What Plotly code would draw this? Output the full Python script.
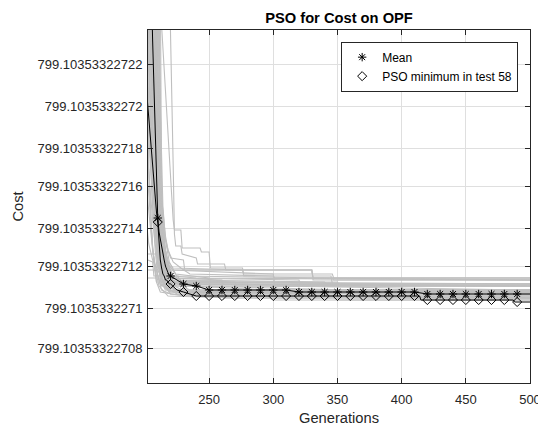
import plotly.graph_objects as go

# Cost values are stored as offsets in units of 1e-12 above BASE
BASE = 799.1035332270
UNIT = 1e-12

# ---- grey runs (generation, cost offset) breakpoints ----
gray_runs = [
    [(202,12.6),(209,12.6),(210,11.9),(216,11.9),(217,11.2),(260,11.2),(261,10.9),(500,10.9)],
    [(202,11.5),(212,11.5),(213,11.0),(230,11.0),(231,10.7),(500,10.7)],
    [(202,12.4),(206,12.3),(207,11.6),(226,11.6),(227,11.25),(300,11.25),(301,11.0),(500,10.95)],
    [(202,15.5),(204,14.0),(206,12.8),(208,12.0),(211,11.4),(218,11.1),(219,10.8),(500,10.8)],
    [(202,17.5),(204,15.8),(206,14.3),(208,13.2),(210,12.3),(213,11.7),(218,11.3),(240,11.05),(241,10.85),(500,10.8)],
    [(202,19.5),(204,17.0),(206,15.0),(208,13.6),(210,12.6),(213,11.9),(220,11.5),(260,11.4),(261,11.1),(500,11.05)],
    [(202,21.5),(204,18.5),(206,16.0),(208,14.2),(210,13.0),(212,12.2),(216,11.6),(224,11.2),(380,11.15),(381,10.9),(500,10.9)],
    [(202,23),(204,19.8),(206,17.3),(208,15.3),(210,13.6),(212,12.5),(215,11.8),(222,11.3),(235,10.95),(500,10.9)],
    [(202,27),(204,22.5),(206,19),(208,16.5),(210,14.5),(212,13.0),(215,12.0),(220,11.4),(230,11.0),(300,10.95),(500,10.93)],
    [(202,30),(204,25),(206,21),(208,18),(210,15.5),(212,13.6),(214,12.5),(218,11.6),(225,11.15),(280,11.1),(281,10.95),(500,10.95)],
    [(202,33),(204,27.5),(206,23),(208,19.5),(210,16.6),(212,14.2),(214,12.8),(218,11.8),(224,11.3),(250,11.2),(251,11.0),(500,11.0)],
    [(202,36),(205,27),(207,22),(209,18),(211,15),(213,13),(216,11.9),(222,11.3),(240,11.15),(500,11.1)],
    [(202,40),(205,30),(207,24.5),(209,20),(211,16.5),(213,14.0),(216,12.4),(220,11.6),(230,11.3),(350,11.25),(351,11.05),(500,11.0)],
    [(202,44),(206,28),(208,23.5),(210,19.5),(212,16.0),(214,13.6),(217,12.1),(222,11.45),(320,11.35),(321,11.1),(500,11.06)],
    [(202,48),(207,28),(209,23),(211,18.5),(213,15.0),(215,13.0),(218,11.9),(224,11.4),(270,11.3),(271,11.05),(500,11.03)],
    [(202,55),(208,27),(210,22),(212,17),(214,14.0),(216,12.6),(220,11.7),(228,11.35),(340,11.3),(341,11.12),(500,11.12)],
    [(202,60),(209,27),(211,21.5),(212,18),(213,15.2),(215,13.2),(218,12.2),(222,11.6),(240,11.45),(500,11.4)],
    [(202,65),(210,27),(212,20),(213,16),(214,14.3),(216,12.9),(219,12.0),(225,11.55),(346,11.5),(347,11.37),(500,11.37)],
    [(202,70),(211,26),(212.5,17),(213,15.0),(215,13.6),(218,12.85),(222,12.3),(228,11.9),(235,11.7),(300,11.65),(301,11.45),(500,11.45)],
    [(202,70),(212,26),(213,15.5),(216,13.5),(218,12.9),(220,12.5),(230,12.4),(231,11.85),(330,11.85),(331,11.5),(500,11.45)],
    [(202,25),(204,20.5),(206,17),(208,14.5),(210,12.8),(212,11.7),(215,11.0),(220,10.7),(240,10.55),(500,10.5)],
    [(202,29),(204,23),(206,18.5),(208,15.3),(210,13.2),(212,11.9),(215,11.1),(222,10.75),(260,10.65),(261,10.45),(500,10.42)],
    [(202,34),(205,24),(207,19.5),(209,16),(211,13.4),(213,11.9),(216,11.1),(225,10.75),(330,10.7),(331,10.55),(500,10.55)],
    [(202,38),(206,24.5),(208,20),(210,16.3),(212,13.4),(214,11.9),(217,11.1),(225,10.8),(400,10.7),(401,10.5),(500,10.48)],
    [(202,22),(204,18),(206,15),(208,12.8),(210,11.6),(213,10.9),(220,10.65),(300,10.6),(301,10.4),(500,10.38)],
    [(202,20),(203,17),(205,14),(207,12.2),(209,11.3),(212,10.8),(230,10.6),(500,10.6)],
    [(202,42),(207,24),(209,19.5),(211,15.8),(213,13.0),(215,11.7),(218,11.0),(230,10.75),(440,10.7),(441,10.52),(500,10.5)],
    [(202,50),(208,24.5),(210,19.5),(212,15.5),(214,12.8),(216,11.7),(220,11.1),(232,10.85),(500,10.82)],
    [(202,31),(205,22),(207,18),(209,14.8),(211,12.7),(213,11.5),(218,10.9),(250,10.8),(251,10.62),(500,10.6)],
    [(202,27),(203,23),(205,18.5),(207,15.2),(209,13.0),(211,11.8),(214,11.2),(225,10.9),(420,10.85),(421,10.68),(500,10.65)],
    [(202,58),(209,26),(211,20),(213,15.5),(215,13.2),(218,12.2),(222,11.85),(330,11.8),(331,11.42),(500,11.42)],
    [(202,46),(207,26),(209,21),(211,16.5),(213,13.8),(216,12.3),(220,11.8),(300,11.7),(301,11.1),(500,11.08)],
    [(202,52),(208,26),(210,21),(212,16.5),(214,13.8),(217,12.4),(222,11.9),(276,11.85),(277,11.6),(345,11.6),(346,11.15),(500,11.15)],
    [(202,24),(204,20),(206,16.5),(208,14),(210,12.3),(212,11.4),(216,10.95),(230,10.78),(500,10.75)],
    [(202,35),(205,25),(207,20),(209,16.2),(211,13.5),(213,12.0),(216,11.3),(224,10.95),(300,10.88),(301,10.85),(500,10.85)],
    [(202,45),(207,25.5),(209,21),(211,17),(213,13.8),(215,12.2),(218,11.4),(226,11.1),(500,10.98)],
    [(202,53),(208,25.5),(210,20.5),(212,16),(214,13),(216,11.8),(220,11.2),(240,11.0),(360,10.95),(361,10.72),(500,10.72)],
    [(202,18),(204,15),(206,13),(208,11.8),(211,11.0),(218,10.6),(270,10.5),(271,10.45),(500,10.45)],
    [(202,28),(204,22.5),(206,18.2),(208,15),(210,12.8),(212,11.6),(215,11.0),(225,10.7),(350,10.65),(351,10.35),(500,10.35)],
    [(202,39),(206,26),(208,21),(210,17),(212,14.0),(214,12.2),(217,11.3),(225,11.05),(500,11.03)],
    [(202,62),(209,28),(211,22.5),(213,17.5),(214,15),(216,13.3),(219,12.3),(224,11.7),(250,11.5),(251,11.2),(500,11.16)],
    [(202,11.8),(208,11.8),(209,11.3),(240,11.3),(241,11.1),(500,11.1)],
    [(202,13.8),(203,13.2),(206,12.4),(210,11.8),(214,11.4),(222,11.1),(400,11.05),(401,10.88),(500,10.88)],
    [(202,16.5),(204,14.5),(206,13.0),(208,12.0),(212,11.1),(220,10.85),(500,10.78)],
    # slow outliers
    [(202,50),(205,40),(210,28),(213,24.0),(217,19.5),(221,15.3),(222,14.3),(223,13.9),(228,13.85),(229,13.0),
     (243,13.0),(244,12.78),(250,12.78),(251,11.97),(276,11.97),(277,11.72),(346,11.72),(347,11.45),(500,11.45)],
    [(202,80),(219,28),(220,24.5),(221,20.8),(222,17.2),(223,13.6),(224,13.03),(228,13.03),(229,12.6),(240,12.55),
     (241,12.2),(262,12.2),(263,11.85),(330,11.85),(331,11.5),(500,11.4)],
]

# ---- mean over all tests ----
mean_gens = [202,203,204,205,206,207,208,209,210,211,212,213,214,215,216,217,218,219,220,
             230,240,250,260,270,280,290,300,310,320,330,340,350,360,370,380,390,400,
             410,420,430,440,450,460,470,480,490,500]
mean_vals = [45,36,30,26,23.3,21.0,18.7,16.5,14.4,13.7,13.25,12.95,12.7,12.35,12.0,11.85,11.72,11.63,11.57,
             11.15,11.03,10.96,10.93,10.91,10.89,10.88,10.87,10.86,10.85,10.84,10.83,10.82,10.81,10.8,10.79,10.78,10.77,
             10.76,10.74,10.73,10.72,10.71,10.7,10.69,10.68,10.67,10.66]

# ---- best test (58) ----
min_gens = [202,203,204,205,206,207,208,209,210,211,212,213,214,215,216,217,218,219,220,
            225,230,235,240,250,260,270,280,290,300,310,320,330,340,350,360,370,380,390,400,
            410,414,415,420,430,440,450,460,470,480,487,488,490,500]
min_vals = [20.2,19.4,18.6,17.8,17.0,16.2,15.5,14.8,14.2,13.2,12.4,11.95,11.7,11.55,11.42,11.32,11.24,11.17,11.1,
            10.95,10.8,10.66,10.58,10.58,10.58,10.58,10.58,10.58,10.58,10.58,10.58,10.58,10.58,10.58,10.58,10.58,10.58,10.58,10.58,
            10.58,10.58,10.36,10.36,10.36,10.36,10.36,10.36,10.36,10.36,10.36,10.22,10.22,10.22]

marker_gens = [210,220,230,240,250,260,270,280,290,300,310,320,330,340,350,
               360,370,380,390,400,410,420,430,440,450,460,470,480,490]

ytick_offsets = [8,10,12,14,16,18,20,22]
ytick_labels = ['799.10353322708','799.1035332271','799.10353322712','799.10353322714',
                '799.10353322716','799.10353322718','799.1035332272','799.10353322722']
xtick_vals = [250,300,350,400,450,500]

def cost(o):
    return BASE + o*UNIT

fig = go.Figure()
for run in gray_runs:
    fig.add_trace(go.Scatter(x=[g for g, _ in run], y=[cost(v) for _, v in run], mode='lines',
                             line=dict(color='rgb(191,191,191)', width=1.1), showlegend=False, hoverinfo='skip'))

fig.add_trace(go.Scatter(x=min_gens, y=[cost(v) for v in min_vals], mode='lines',
                         line=dict(color='black', width=1), showlegend=False))
fig.add_trace(go.Scatter(x=mean_gens, y=[cost(v) for v in mean_vals], mode='lines',
                         line=dict(color='black', width=1), showlegend=False))

mean_lookup = dict(zip(mean_gens, mean_vals))
min_lookup = dict(zip(min_gens, min_vals))
fig.add_trace(go.Scatter(x=marker_gens, y=[cost(mean_lookup[g]) for g in marker_gens], mode='markers',
                         name='Mean',
                         marker=dict(symbol='asterisk-open', size=7, color='black', line=dict(color='black', width=1))))
fig.add_trace(go.Scatter(x=marker_gens, y=[cost(min_lookup[g]) for g in marker_gens], mode='markers',
                         name='PSO minimum in test 58',
                         marker=dict(symbol='diamond-open', size=7, color='black', line=dict(color='black', width=1))))

axis_common = dict(showline=True, linecolor='#262626', linewidth=1, mirror='ticks',
                   ticks='inside', ticklen=5, tickcolor='#262626', showgrid=True, gridcolor='#dfdfdf',
                   gridwidth=1, zeroline=False, automargin=False,
                   tickfont=dict(family='Liberation Sans, Arial, sans-serif', size=13, color='#262626'))

fig.update_layout(
    width=538, height=426,
    margin=dict(l=148, r=8, t=30, b=43, autoexpand=False),
    paper_bgcolor='white', plot_bgcolor='white',
    font=dict(family='Liberation Sans, Arial, sans-serif', color='#262626'),
    title=dict(text='<b>PSO for Cost on OPF</b>', x=0.5, xref='paper', xanchor='center',
               y=1-18/426, yref='container', yanchor='middle',
               font=dict(size=14.7, color='black', family='Liberation Sans, Arial, sans-serif')),
    xaxis=dict(range=[202.4, 500.0001], tickvals=xtick_vals, ticklabeloverflow='allow',
               title=dict(text='Generations', font=dict(size=14.7, color='#262626'), standoff=10),
               ticklabelstandoff=4, **axis_common),
    yaxis=dict(range=[cost(6.25), cost(23.77)], tickvals=[cost(v) for v in ytick_offsets],
               ticktext=ytick_labels,
               title=dict(text='Cost', font=dict(size=14.7, color='#262626'), standoff=10),
               ticklabelstandoff=2, **axis_common),
    legend=dict(x=0.969, xanchor='right', y=0.967, yanchor='top', bgcolor='white',
                bordercolor='#262626', borderwidth=1,
                font=dict(size=12, color='black', family='Liberation Sans, Arial, sans-serif')),
    showlegend=True,
)

fig.write_html('out.html')
